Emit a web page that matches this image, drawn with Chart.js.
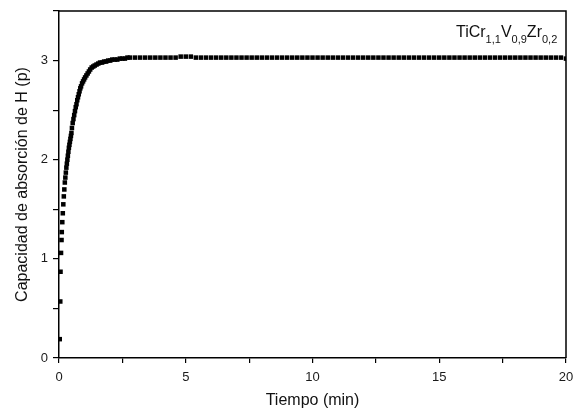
<!DOCTYPE html>
<html>
<head>
<meta charset="utf-8">
<script src="https://cdn.jsdelivr.net/npm/chart.js@4.4.1/dist/chart.umd.min.js"></script>
<style>
  html, body { margin: 0; padding: 0; background: #fff; }
  #wrap { width: 573px; height: 412px; }
</style>
</head>
<body>
<div id="wrap"><canvas id="chart"></canvas></div>
<script>
// Tiempo (min) and capacidad de absorción (p)
const timeMin = [
    0.03, 0.05, 0.06, 0.08, 0.10, 0.11, 0.13, 0.15, 0.17, 0.19,
    0.21, 0.23, 0.25, 0.27, 0.29, 0.31, 0.33, 0.35, 0.37, 0.39,
    0.41, 0.43, 0.45, 0.47, 0.49, 0.51, 0.54, 0.57, 0.60, 0.63,
    0.66, 0.69, 0.72, 0.75, 0.78, 0.81, 0.84, 0.87, 0.91, 0.95,
    0.99, 1.03, 1.08, 1.13, 1.18, 1.23, 1.29, 1.35, 1.41, 1.48,
    1.55, 1.62, 1.70, 1.78, 1.86, 1.94, 2.02, 2.10, 2.20, 2.30,
    2.40, 2.50, 2.60, 2.70, 2.80,
    3.0, 3.2, 3.4, 3.6, 3.8, 4.0, 4.2, 4.4, 4.6, 4.8,
    5.0, 5.2, 5.4, 5.6, 5.8, 6.0, 6.2, 6.4, 6.6, 6.8,
    7.0, 7.2, 7.4, 7.6, 7.8, 8.0, 8.2, 8.4, 8.6, 8.8,
    9.0, 9.2, 9.4, 9.6, 9.8, 10.0, 10.2, 10.4, 10.6, 10.8,
    11.0, 11.2, 11.4, 11.6, 11.8, 12.0, 12.2, 12.4, 12.6, 12.8,
    13.0, 13.2, 13.4, 13.6, 13.8, 14.0, 14.2, 14.4, 14.6, 14.8,
    15.0, 15.2, 15.4, 15.6, 15.8, 16.0, 16.2, 16.4, 16.6, 16.8,
    17.0, 17.2, 17.4, 17.6, 17.8, 18.0, 18.2, 18.4, 18.6, 18.8,
    19.0, 19.2, 19.4, 19.6, 19.8, 20.0
];
const capacity = [
    0.19, 0.57, 0.87, 1.06, 1.19, 1.27, 1.37, 1.46, 1.55, 1.63,
    1.70, 1.77, 1.82, 1.87, 1.92, 1.96, 2.00, 2.04, 2.08, 2.12,
    2.15, 2.18, 2.21, 2.24, 2.27, 2.32, 2.37, 2.41, 2.45, 2.49,
    2.53, 2.56, 2.60, 2.63, 2.66, 2.69, 2.72, 2.74, 2.77, 2.79,
    2.81, 2.83, 2.85, 2.87, 2.89, 2.91, 2.93, 2.94, 2.95, 2.96,
    2.97, 2.98, 2.98, 2.99, 2.99, 3.00, 3.00, 3.01, 3.01, 3.01,
    3.02, 3.02, 3.02, 3.03, 3.03,
    3.03, 3.03, 3.03, 3.03, 3.03, 3.03, 3.03, 3.03, 3.03, 3.04,
    3.04, 3.04, 3.03, 3.03, 3.03, 3.03, 3.03, 3.03, 3.03, 3.03,
    3.03, 3.03, 3.03, 3.03, 3.03, 3.03, 3.03, 3.03, 3.03, 3.03,
    3.03, 3.03, 3.03, 3.03, 3.03, 3.03, 3.03, 3.03, 3.03, 3.03,
    3.03, 3.03, 3.03, 3.03, 3.03, 3.03, 3.03, 3.03, 3.03, 3.03,
    3.03, 3.03, 3.03, 3.03, 3.03, 3.03, 3.03, 3.03, 3.03, 3.03,
    3.03, 3.03, 3.03, 3.03, 3.03, 3.03, 3.03, 3.03, 3.03, 3.03,
    3.03, 3.03, 3.03, 3.03, 3.03, 3.03, 3.03, 3.03, 3.03, 3.03,
    3.03, 3.03, 3.03, 3.03, 3.03, 3.02
];

const FONT = "'Liberation Sans', Arial, sans-serif";

// top/right frame + compound label
const framePlugin = {
    id: 'frame',
    afterDraw(chart) {
        const { ctx, chartArea: a } = chart;
        ctx.save();
        ctx.strokeStyle = '#000';
        ctx.lineWidth = 1.5;
        ctx.beginPath();
        ctx.moveTo(a.left, a.top);
        ctx.lineTo(a.right, a.top);
        ctx.lineTo(a.right, a.bottom);
        ctx.stroke();

        // TiCr1,1V0,9Zr0,2
        const parts = [['Ti', 0], ['Cr', 0], ['1,1', 1], ['V', 0], ['0,9', 1], ['Zr', 0], ['0,2', 1]];
        let x = 456;
        ctx.fillStyle = '#111';
        ctx.textBaseline = 'alphabetic';
        ctx.textAlign = 'left';
        parts.forEach(([txt, sub]) => {
            ctx.font = (sub ? '11px ' : '16px ') + FONT;
            ctx.fillText(txt, x, sub ? 43 : 37);
            x += ctx.measureText(txt).width;
        });
        ctx.restore();
    }
};

const data = timeMin.map((t, i) => ({ x: t, y: capacity[i] }));

new Chart(document.getElementById('chart'), {
    type: 'scatter',
    data: {
        datasets: [{
            data: data,
            pointStyle: 'rect',
            pointRadius: 3.2,
            pointBorderWidth: 0,
            backgroundColor: '#000',
            borderColor: '#000'
        }]
    },
    options: {
        responsive: true,
        maintainAspectRatio: false,
        animation: false,
        layout: { padding: { top: 11, right: 7, left: 0, bottom: 0 } },
        plugins: {
            legend: { display: false },
            tooltip: { enabled: false }
        },
        scales: {
            x: {
                min: 0,
                max: 20,
                ticks: {
                    stepSize: 2.5,
                    autoSkip: false,
                    maxRotation: 0,
                    padding: 7,
                    color: '#1a1a1a',
                    font: { family: FONT, size: 13 },
                    callback: v => (v % 5 === 0 ? v : '')
                },
                grid: { drawOnChartArea: false, drawTicks: true, tickLength: 5, color: '#000', lineWidth: 1.2 },
                border: { color: '#000', width: 1.5 },
                title: {
                    display: true,
                    text: 'Tiempo (min)',
                    color: '#111',
                    font: { family: FONT, size: 16 },
                    padding: { top: 0, bottom: 2 }
                },
                afterFit(scale) {
                    scale.height = 54;
                    scale.paddingLeft = 0;
                    scale.paddingRight = 0;
                }
            },
            y: {
                min: 0,
                max: 3.5,
                ticks: {
                    stepSize: 0.5,
                    autoSkip: false,
                    padding: 5,
                    color: '#1a1a1a',
                    font: { family: FONT, size: 13 },
                    callback: v => (Number.isInteger(v) ? v : '')
                },
                grid: { drawOnChartArea: false, drawTicks: true, tickLength: 6, color: '#000', lineWidth: 1.2 },
                border: { color: '#000', width: 1.5 },
                title: {
                    display: true,
                    text: 'Capacidad de absorción de H (p)',
                    color: '#111',
                    font: { family: FONT, size: 16 },
                    padding: { top: 13, bottom: 0 }
                },
                afterFit(scale) {
                    scale.width = 59;
                    scale.paddingTop = 0;
                    scale.paddingBottom = 0;
                }
            }
        }
    },
    plugins: [framePlugin]
});
</script>
</body>
</html>
